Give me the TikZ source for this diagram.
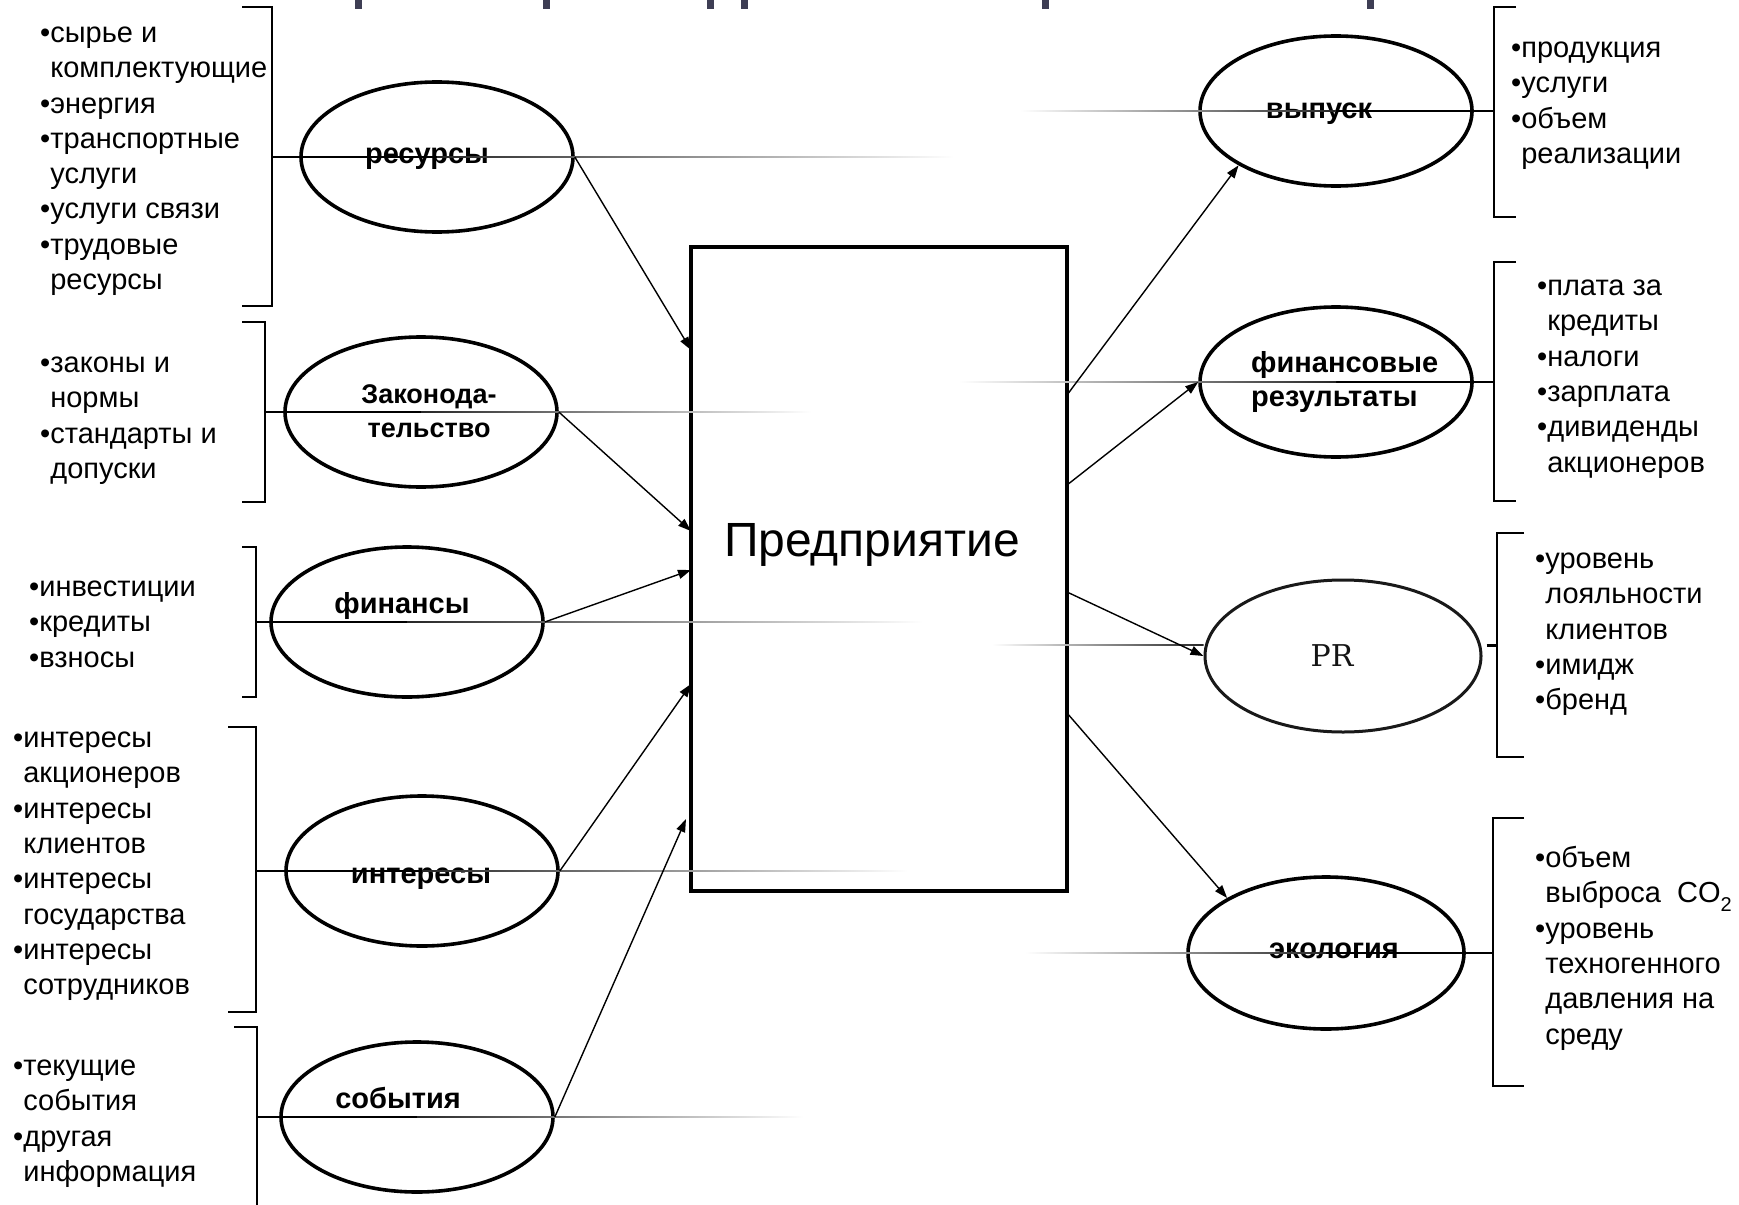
\documentclass[tikz,border=0pt]{standalone}
\usepackage{fontspec}
\setmainfont{Liberation Sans}
\newfontfamily\prfont{DejaVu Serif}
\usetikzlibrary{shapes.geometric,arrows.meta,calc}

\definecolor{titleink}{RGB}{62,62,84}

\begin{document}
\begin{tikzpicture}[x=1pt,y=-1pt,
  oval/.style={draw, ellipse, line width=3.6pt, minimum width=272pt,
    minimum height=150pt, inner sep=0pt},
  listtxt/.style={anchor=base west, inner sep=0pt,
    font=\fontsize{29}{35.3}\selectfont},
  lbl/.style={anchor=base, inner sep=0pt,
    font=\fontsize{29}{34}\selectfont\bfseries},
  brk/.style={line width=2.2pt},
  tick/.style={line width=1.6pt},
  conn/.style={line width=1.4pt, -{Triangle[length=13pt,width=9pt]}},
]

% page
\fill[white] (0,0) rectangle (1739,1204);
\useasboundingbox (0,0) rectangle (1739,1204);

% bits of the heading cut off at the top edge
\foreach \hx [count=\k] in {355,543,707,741,1042,1367}
  \fill[titleink] (\hx,0) rectangle ++(7,9);

% central block
\node[draw, line width=3.5pt, minimum width=376pt, minimum height=644pt,
  inner sep=0pt] (ent) at (879,569) {};
\node[anchor=base, inner sep=0pt, font=\fontsize{48}{52}\selectfont]
  (tent) at (872,556) {Предприятие};

% input factors
\node[oval] (res) at (437,157) {};
\node[oval] (zak) at (421,412) {};
\node[oval] (fin) at (407,622) {};
\node[oval] (int) at (422,871) {};
\node[oval] (sob) at (417,1117) {};

\node[lbl] (tres) at (427,163) {ресурсы};
\node[lbl, font=\fontsize{27}{34}\selectfont\bfseries] (tzak) at (429,403)
  {\begin{tabular}[t]{@{}c@{}}Законода-\\тельство\end{tabular}};
\node[lbl] (tfin) at (402,613) {финансы};
\node[lbl] (tint) at (421,883) {интересы};
\node[lbl] (tsob) at (398,1108) {события};

% results
\node[oval] (vyp) at (1336,111) {};
\node[oval] (frez) at (1336,382) {};
\node[oval, line width=3pt, draw=black!90, minimum width=276pt,
  minimum height=152pt] (pr) at (1343,656) {};
\node[oval, minimum width=276pt, minimum height=152pt] (eco) at (1326,953) {};

\node[lbl] (tvyp) at (1319,118) {выпуск};
\node[lbl, anchor=base west] (tfrez) at (1251,372)
  {\begin{tabular}[t]{@{}l@{}}финансовые\\результаты\end{tabular}};
\node[anchor=base, inner sep=0pt, text=black!92,
  font=\prfont\fontsize{30}{34}\selectfont] (tpr) at (1332,666) {PR};
\node[lbl] (teco) at (1334,958) {экология};

% lists on the left
\node[listtxt] (lres) at (40,42.5) {\begin{tabular}[t]{@{}l@{}}
  •сырье и\\ \hphantom{•}комплектующие\\ •энергия\\ •транспортные\\
  \hphantom{•}услуги\\ •услуги связи\\ •трудовые\\ \hphantom{•}ресурсы\end{tabular}};
\node[listtxt] (lzak) at (40,372.5) {\begin{tabular}[t]{@{}l@{}}
  •законы и\\ \hphantom{•}нормы\\ •стандарты и\\ \hphantom{•}допуски\end{tabular}};
\node[listtxt] (lfin) at (29,596.5) {\begin{tabular}[t]{@{}l@{}}
  •инвестиции\\ •кредиты\\ •взносы\end{tabular}};
\node[listtxt] (lint) at (13,747.5) {\begin{tabular}[t]{@{}l@{}}
  •интересы\\ \hphantom{•}акционеров\\ •интересы\\ \hphantom{•}клиентов\\
  •интересы\\ \hphantom{•}государства\\ •интересы\\ \hphantom{•}сотрудников\end{tabular}};
\node[listtxt] (lsob) at (13,1075.5) {\begin{tabular}[t]{@{}l@{}}
  •текущие\\ \hphantom{•}события\\ •другая\\ \hphantom{•}информация\end{tabular}};

% lists on the right
\node[listtxt] (lvyp) at (1511,57.5) {\begin{tabular}[t]{@{}l@{}}
  •продукция\\ •услуги\\ •объем\\ \hphantom{•}реализации\end{tabular}};
\node[listtxt] (lfrez) at (1537,295.5) {\begin{tabular}[t]{@{}l@{}}
  •плата за\\ \hphantom{•}кредиты\\ •налоги\\ •зарплата\\ •дивиденды\\
  \hphantom{•}акционеров\end{tabular}};
\node[listtxt] (lpr) at (1535,568.5) {\begin{tabular}[t]{@{}l@{}}
  •уровень\\ \hphantom{•}лояльности\\ \hphantom{•}клиентов\\ •имидж\\ •бренд\end{tabular}};
\node[listtxt] (leco) at (1535,867.5) {\begin{tabular}[t]{@{}l@{}}
  •объем\\ \hphantom{•}выброса\ \ CO\raisebox{-9pt}{\fontsize{20}{20}\selectfont 2}\\
  •уровень\\ \hphantom{•}техногенного\\ \hphantom{•}давления на\\ \hphantom{•}среду\end{tabular}};

% brackets
\draw[brk] (242,7) -- (272,7) -- (272,306) -- (242,306);
\draw[brk] (242,322) -- (265,322) -- (265,502) -- (242,502);
\draw[brk] (242,547) -- (256,547) -- (256,697) -- (242,697);
\draw[brk] (228,727) -- (256,727) -- (256,1012) -- (228,1012);
\draw[brk] (234,1027) -- (257,1027) -- (257,1206);
\draw[brk] (1516,7) -- (1494,7) -- (1494,217) -- (1516,217);
\draw[brk] (1516,262) -- (1494,262) -- (1494,501) -- (1516,501);
\draw[brk] (1524,533) -- (1497,533) -- (1497,757) -- (1524,757);
\draw[brk] (1524,818) -- (1493,818) -- (1493,1086) -- (1524,1086);

% bracket ticks and the lines that run through the ovals
\coordinate (k1) at (272,157);  \coordinate (f1) at (954,157);
\coordinate (k2) at (265,412);  \coordinate (f2) at (811,412);
\coordinate (k3) at (256,622);  \coordinate (f3) at (923,622);
\coordinate (k4) at (256,871);  \coordinate (f4) at (908,871);
\coordinate (k5) at (257,1117); \coordinate (f5) at (803,1117);
\coordinate (k6) at (1494,111); \coordinate (f6) at (1020,111);
\coordinate (k7) at (1494,382); \coordinate (f7) at (959,382);
\coordinate (k8) at (1497,645); \coordinate (f8) at (992,645);
\coordinate (k9) at (1493,953); \coordinate (f9) at (1025,953);

\foreach \o/\k/\f in {res/k1/f1, zak/k2/f2, fin/k3/f3, int/k4/f4, sob/k5/f5}{
  \draw[tick] (\k) -- (\o.center);
  \shade[left color=black!85, right color=white]
    ($(\o.center)+(0,-0.8)$) rectangle ($(\f)+(0,0.8)$);
}
\foreach \o/\k/\f in {vyp/k6/f6, frez/k7/f7, eco/k9/f9}{
  \draw[tick] (\k) -- (\o.center);
  \shade[left color=white, right color=black!85]
    ($(\f)+(0,-0.8)$) rectangle ($(\o.center)+(0,0.8)$);
}
\coordinate (prl) at ($(pr.west)+(0,-11)$);
\shade[left color=white, right color=black!85]
  ($(f8)+(0,-0.8)$) rectangle ($(prl)+(0,0.8)$);
\draw[line width=3pt] ($(pr.east)+(4,-11)$) -- (k8);

% connectors into the block
\coordinate (in1) at (691,350);
\coordinate (in2) at (691,531);
\coordinate (in3) at (691,570);
\coordinate (in4) at (691,684);
\coordinate (in5) at (686,819);
\draw[conn] (res.east) -- (in1);
\draw[conn] (zak.east) -- (in2);
\draw[conn] (fin.east) -- (in3);
\draw[conn] (int.east) -- (in4);
\draw[conn] (sob.east) -- (in5);

% connectors out of the block
\coordinate (out1) at (1067,395);
\coordinate (out2) at (1067,485);
\coordinate (out3) at (1067,592);
\coordinate (out4) at (1067,713);
\draw[conn] (out1) -- (vyp.south west);
\draw[conn] (out2) -- (frez.west);
\draw[conn] (out3) -- (pr.west);
\draw[conn] (out4) -- (eco.north west);

\end{tikzpicture}
\end{document}
